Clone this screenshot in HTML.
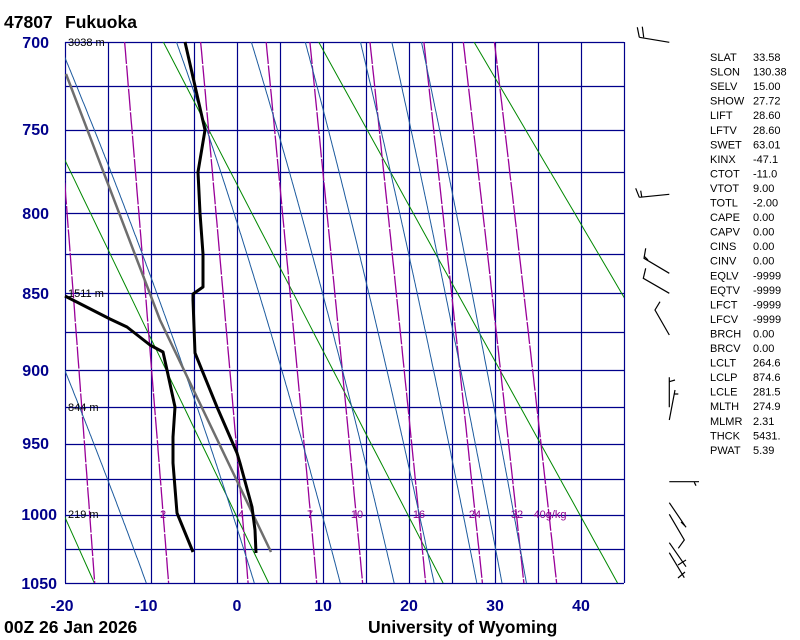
<!DOCTYPE html>
<html><head><meta charset="utf-8"><style>
html,body{margin:0;padding:0;background:#fff;width:800px;height:640px;overflow:hidden}
svg{display:block}
</style></head><body>
<svg id="s" width="800" height="640" xmlns="http://www.w3.org/2000/svg" font-family="Liberation Sans, sans-serif">
<defs><clipPath id="c"><rect x="65" y="42" width="559" height="541"/></clipPath></defs>
<g id="grid"></g>
<g id="lines" clip-path="url(#c)"></g>
<g id="snd" fill="none" stroke-linejoin="round">
<polyline points="66,74 160,320 271,552" stroke="#6e6e6e" stroke-width="2.5"/>
<polyline points="185,42 205,130 198,172 200,213 203,254 203,287 193,294 193,300 195,353 217,407 237,453 240,463 252,507 255,530 256,553" stroke="#000" stroke-width="3"/>
<polyline points="65,296 110,319 127,327 150,345 163,352 167,370 175,407 173,437 173,463 177,513 193,552" stroke="#000" stroke-width="3"/>
</g>
<g stroke="#000" stroke-width="1.2" fill="none">
<path d="M637.3,27.3L639.3,37.3M642.3,26.7L643.7,37.3M639.3,37.3L669.3,42.3"/>
<path d="M635.7,188.3L639.3,197.3M640.7,190.7L641.7,196.7M639.3,197.3L669.3,194.3"/>
<path d="M645.7,248.3L644,258.3L669.3,273.3M644,256L648,260"/>
<path d="M645.7,268.3L643.3,278.3L669.3,293.3"/>
<path d="M660,301.7L655,310L669.3,335"/>
<path d="M669.3,377.3L669.3,407.3M669.3,381.7L675,380"/>
<path d="M675,390L669.3,420M674,394L678.3,394"/>
<path d="M669.3,481.7L699,481.7M694.3,482.3L696,485.7"/>
<path d="M669.3,502.7L686,527.3M669.3,514.3L684.3,540L678.3,548.3M681,522L686,527"/>
<path d="M669.3,542.7L686,566.7M669.3,552.7L684.3,577.7M678,565L686,560M678,578L685,572"/>
</g>
<g font-size="17.5" font-weight="bold" fill="#000">
<text x="4" y="28">47807</text><text x="65" y="28">Fukuoka</text>
<text x="4" y="633">00Z 26 Jan 2026</text>
<text x="368" y="633">University of Wyoming</text>
</g>
<g font-size="16" font-weight="bold" fill="#00008b" text-anchor="end">
<text x="49" y="48">700</text><text x="49" y="135">750</text><text x="49" y="219">800</text>
<text x="49" y="299">850</text><text x="49" y="376">900</text><text x="49" y="449">950</text>
<text x="57" y="520">1000</text><text x="57" y="589">1050</text>
</g>
<g font-size="16" font-weight="bold" fill="#00008b" text-anchor="middle">
<text x="62" y="611">-20</text><text x="146" y="611">-10</text><text x="237" y="611">0</text>
<text x="323" y="611">10</text><text x="409" y="611">20</text><text x="495" y="611">30</text><text x="581" y="611">40</text>
</g>
<g font-size="11" fill="#000">
<text x="68" y="46">3038 m</text><text x="68" y="297">1511 m</text>
<text x="68" y="411">844 m</text><text x="68" y="518">219 m</text>
</g>
<g font-size="11" fill="#900090" text-anchor="middle">
<text x="163" y="518">2</text><text x="241" y="518">4</text><text x="310" y="518">7</text>
<text x="357" y="518">10</text><text x="419" y="518">16</text><text x="475" y="518">24</text>
<text x="517" y="518">32</text><text x="550" y="518">40g/kg</text>
</g>
<g id="tbl" font-size="11" fill="#000"></g>
</svg>
<script>
var NS="http://www.w3.org/2000/svg",k=0.286;
function Y(p){var a=Math.pow(700,k),b=Math.pow(1050,k);return 42+541*(Math.pow(p,k)-a)/(b-a);}
function X(t){return 237+8.6*t;}
function el(g,n,at){var e=document.createElementNS(NS,n);for(var a in at)e.setAttribute(a,at[a]);document.getElementById(g).appendChild(e);return e;}
function pl(g,pts,col,extra){var s=pts.map(function(q){return q[0].toFixed(1)+","+q[1].toFixed(1)}).join(" ");var at={points:s,fill:"none",stroke:col,"stroke-width":1};for(var a in extra)at[a]=extra[a];el(g,"polyline",at);}
var gc="#00008b";
[700,725,750,775,800,825,850,875,900,925,950,975,1000,1025,1050].forEach(function(p){var y=Math.round(Y(p))+0.5;el("grid","line",{x1:65,x2:624,y1:y,y2:y,stroke:gc,"stroke-width":1.2});});
for(var t=-20;t<=45;t+=5){var x=Math.round(X(t))+0.5;el("grid","line",{x1:x,x2:x,y1:42,y2:583,stroke:gc,"stroke-width":1.2});}
[253,273,293,313,333].forEach(function(th){var pts=[];for(var p=700;p<=1050;p+=10){pts.push([X(th*Math.pow(p/1000,k)-273.15),Y(p)]);}pl("lines",pts,"#008800");});
function es(T){return 6.112*Math.exp(17.67*T/(T+243.5));}
[1,2,4,7,10,16,24,32,40].forEach(function(w){var pts=[];for(var p=700;p<=1050;p+=5){var e=w*p/(622+w);var l=Math.log(e/6.112);pts.push([X(243.5*l/(17.67-l)),Y(p)]);}pl("lines",pts,"#990099",{"stroke-width":1.3,"stroke-dasharray":"22 1.5"});});
function dTdp(T,p){var Tk=T+273.15,e=es(T),r=0.622*e/(p-e),Rd=287,cp=1005,L=2.5e6;return (Rd*Tk+L*r)/p/(cp+L*L*r*0.622/(Rd*Tk*Tk));}
[-13.5,-0.5,9.9,16.4,21.2,26.3,29.3,32.2].forEach(function(t0){var up=[],T=t0,p;for(p=1000;p>=690;p-=1){up.push([X(T),Y(p)]);T-=dTdp(T,p);}T=t0;var dn=[];for(p=1000;p<=1050;p+=1){dn.push([X(T),Y(p)]);T+=dTdp(T,p);}pl("lines",up.reverse().concat(dn),"#1c5a9e");});
var rows=[["SLAT","33.58"],["SLON","130.38"],["SELV","15.00"],["SHOW","27.72"],["LIFT","28.60"],["LFTV","28.60"],["SWET","63.01"],["KINX","-47.1"],["CTOT","-11.0"],["VTOT","9.00"],["TOTL","-2.00"],["CAPE","0.00"],["CAPV","0.00"],["CINS","0.00"],["CINV","0.00"],["EQLV","-9999"],["EQTV","-9999"],["LFCT","-9999"],["LFCV","-9999"],["BRCH","0.00"],["BRCV","0.00"],["LCLT","264.6"],["LCLP","874.6"],["LCLE","281.5"],["MLTH","274.9"],["MLMR","2.31"],["THCK","5431."],["PWAT","5.39"]];
rows.forEach(function(r,i){var y=(61+i*14.55).toFixed(1);el("tbl","text",{x:710,y:y}).textContent=r[0];el("tbl","text",{x:753,y:y}).textContent=r[1];});
</script>
</body></html>
